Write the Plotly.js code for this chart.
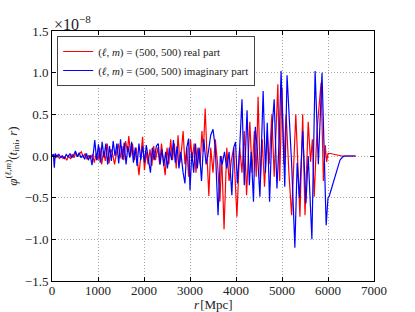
<!DOCTYPE html>
<html>
<head>
<meta charset="utf-8">
<script src="https://cdn.plot.ly/plotly-3.0.1.min.js"></script>
<style>html,body{margin:0;padding:0;background:#fff;}#chart{width:415px;height:312px;}</style>
</head>
<body>
<div id="chart"></div>
<script>
// values in units of 1e-8
const rReal = [0,40,80,120,160,200,240,280,320,360,400,440,480,520,560,600,640,680,720,760,800,840,880,920,960,1000,1040,1080,1120,1160,1200,1240,1280,1320,1360,1400,1440,1480,1520,1560,1600,1640,1670,1710,1750,1790,1830,1890,1930,1970,2010,2050,2090,2130,2170,2210,2250,2300,2340,2380,2420,2460,2500,2540,2580,2620,2660,2700,2740,2780,2820,2850,2890,2930,2970,3010,3050,3090,3130,3170,3220,3260,3290,3330,3370,3410,3450,3500,3550,3600,3650,3690,3740,3800,3850,3900,3950,4020,4080,4130,4180,4230,4300,4350,4400,4440,4480,4530,4570,4620,4680,4720,4780,4830,4870,4910,4950,5000,5040,5090,5150,5210,5300,5340,5390,5450,5500,5570,5620,5660,5700,5760,5850,5900,5940,5970,6000,6050,6100,6200,6300,6600];
const phiReal = [0.0,0.02,-0.02,0.01,-0.03,0.0,-0.03,-0.01,-0.05,0.0,-0.03,0.02,-0.02,0.04,-0.01,0.03,0.05,-0.02,0.03,-0.04,0.01,-0.03,0.02,-0.08,0.03,-0.05,0.1,-0.1,0.06,-0.06,0.15,-0.09,0.08,0.02,-0.1,0.05,0.15,-0.03,0.12,-0.05,0.18,0.05,0.24,0.0,0.15,-0.05,0.1,-0.23,0.05,0.23,-0.17,0.05,-0.1,0.08,-0.12,0.12,-0.05,0.1,-0.1,0.15,-0.05,-0.23,0.1,-0.1,0.2,-0.05,0.15,-0.15,0.25,-0.08,0.1,0.3,-0.1,0.1,-0.25,0.2,-0.05,0.15,-0.2,0.1,-0.1,0.3,0.05,0.57,0.0,-0.48,0.1,-0.2,0.2,-0.1,-0.55,0.0,-0.88,0.1,-0.3,-0.05,0.1,-0.73,0.1,-0.2,0.3,-0.47,0.41,-0.2,0.3,-0.25,0.71,-0.3,0.2,-0.37,0.3,-0.1,0.5,-0.25,0.3,0.86,-0.3,0.82,-0.1,0.5,-0.2,-0.71,0.5,0.0,-0.73,0.5,-0.71,0.41,-0.07,0.2,-0.49,0.3,0.88,-0.3,0.13,-0.07,0.03,0.03,0.025,0.015,0.0,0.0];

const rImag = [0,30,50,70,110,150,190,230,270,310,350,390,430,470,510,550,590,630,670,710,750,790,830,870,930,970,1010,1050,1090,1130,1170,1210,1250,1290,1330,1370,1410,1450,1490,1530,1570,1610,1650,1690,1730,1770,1810,1850,1890,1930,1970,2010,2050,2100,2140,2180,2220,2270,2310,2350,2390,2430,2470,2510,2550,2600,2640,2680,2720,2760,2800,2850,2890,2930,2970,3000,3040,3080,3120,3160,3200,3250,3300,3350,3400,3450,3500,3550,3610,3660,3700,3750,3800,3850,3910,3950,3990,4030,4080,4130,4180,4240,4290,4330,4380,4420,4460,4520,4590,4640,4680,4730,4780,4830,4890,4940,4980,5060,5110,5210,5280,5330,5380,5450,5520,5570,5650,5720,5790,5870,5960,6000,6020,6060,6110,6160,6200,6260,6320,6370,6600];
const phiImag = [0.0,0.02,-0.14,0.03,-0.01,0.02,-0.02,0.0,-0.03,0.02,-0.01,0.03,-0.02,0.01,0.06,-0.01,0.04,-0.02,0.01,-0.04,0.03,-0.05,0.01,-0.11,0.19,-0.05,0.14,-0.08,0.17,-0.02,0.15,-0.1,0.12,-0.06,0.18,0.0,0.15,-0.09,0.2,-0.04,0.16,-0.1,0.12,-0.02,0.17,-0.08,0.1,-0.12,0.15,-0.05,0.12,-0.08,0.13,-0.03,-0.2,0.1,-0.05,0.12,0.15,-0.1,0.08,-0.12,0.05,-0.15,0.1,-0.05,0.19,-0.08,0.12,-0.15,0.05,-0.2,-0.33,0.1,0.21,-0.41,0.05,-0.2,0.15,-0.15,0.1,-0.3,0.2,-0.1,0.05,0.25,0.32,0.1,-0.71,0.0,-0.1,0.05,-0.15,0.05,-0.47,0.1,0.17,-0.33,0.1,0.68,-0.35,0.55,-0.35,0.05,-0.55,0.35,0.1,-0.49,0.78,-0.2,0.4,-0.55,0.3,0.68,-0.39,0.2,1.02,-0.37,0.97,-0.1,-1.1,-0.08,-0.5,0.3,-0.57,0.0,-1.0,1.02,-0.1,1.0,-0.83,-0.5,-0.49,-0.42,-0.33,-0.22,-0.15,-0.05,-0.01,0.0,0.0];

const xTicks = [0,1000,2000,3000,4000,5000,6000,7000];
const yTicks = [-1.5,-1.0,-0.5,0.0,0.5,1.0,1.5];
const legendReal = "(<i>ℓ</i>, <i>m</i>) = (500, 500) real part";
const legendImag = "(<i>ℓ</i>, <i>m</i>) = (500, 500) imaginary part";

const serif = "Liberation Serif, DejaVu Serif, serif";
const traces = [
  {x: rReal, y: phiReal, type: 'scatter', mode: 'lines', name: legendReal,
   line: {color: '#ff0000', width: 1.2}},
  {x: rImag, y: phiImag, type: 'scatter', mode: 'lines', name: legendImag,
   line: {color: '#0000ff', width: 1.2}}
];
const axisCommon = {
  showline: true, linecolor: '#000', linewidth: 1, mirror: 'allticks',
  ticks: 'inside', ticklen: 4, tickcolor: '#000',
  showgrid: true, gridcolor: '#a8a8a8', griddash: '1px,2px', gridwidth: 1,
  zeroline: false, tickfont: {family: serif, size: 13, color: '#222'}
};
const layout = {
  width: 415, height: 312,
  margin: {l: 52, r: 41, t: 31, b: 31},
  paper_bgcolor: '#fff', plot_bgcolor: '#fff',
  showlegend: true,
  legend: {x: 0.016, y: 0.98, xanchor: 'left', yanchor: 'top',
    bgcolor: '#fff', bordercolor: '#444', borderwidth: 1,
    font: {family: serif, size: 11, color: '#222'}, itemwidth: 30,
    tracegroupgap: 0},
  xaxis: Object.assign({}, axisCommon, {range: [0, 7000], tickvals: xTicks,
    ticktext: xTicks.map(String), ticklabelstandoff: -3}),
  yaxis: Object.assign({}, axisCommon, {range: [-1.5, 1.5], tickvals: yTicks,
    tickformat: '.1f',
    title: {text: '<i>φ</i><sup>(<i>ℓ</i>,<i>m</i>)</sup>(<i>t</i><sub>ini</sub>, <i>r</i>)', font: {family: serif, size: 13, color: '#222'}, standoff: 4}}),
  annotations: [
    {xref: 'paper', yref: 'paper', x: 0.0, y: 1.0, xanchor: 'left', yanchor: 'bottom',
     text: '×10<sup>−8</sup>', showarrow: false, font: {family: serif, size: 16, color: '#222'}, xshift: 0, yshift: -4},
    {xref: 'paper', yref: 'paper', x: 0.5, y: 0.0, xanchor: 'center', yanchor: 'top',
     text: '<i>r</i>\u200a[Mpc]', showarrow: false, font: {family: serif, size: 13, color: '#222'}, yshift: -14}
  ]
};
Plotly.newPlot('chart', traces, layout, {displayModeBar: false, staticPlot: true});
</script>
</body>
</html>
